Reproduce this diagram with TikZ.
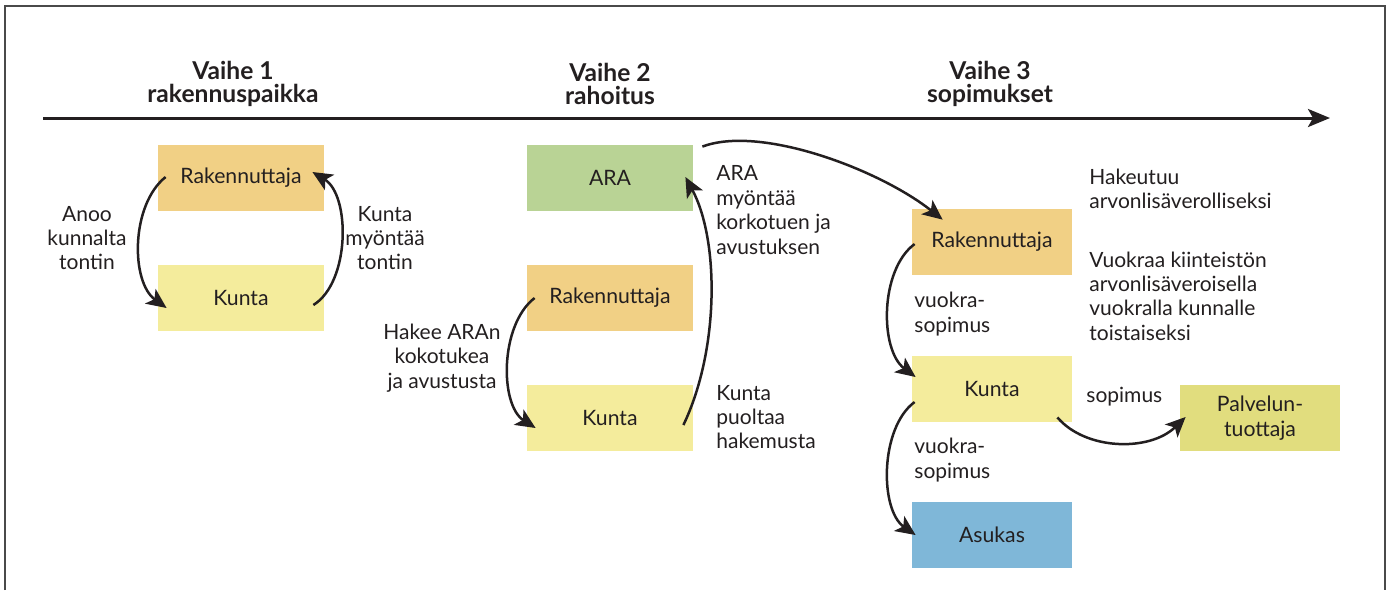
\documentclass[tikz,border=0pt]{standalone}
\usepackage{fontspec}
\setmainfont{Lato}
\usetikzlibrary{arrows.meta,calc}
\definecolor{txt}{HTML}{231F20}
\definecolor{frm}{HTML}{4A4A4A}
\definecolor{corange}{HTML}{F1D085}
\definecolor{cyellow}{HTML}{F4EC9C}
\definecolor{cgreen}{HTML}{B9D395}
\definecolor{cblue}{HTML}{7FB7D8}
\definecolor{colive}{HTML}{E1DD7E}
\begin{document}
\begin{tikzpicture}[x=0.5pt,y=-0.5pt,
  box/.style={minimum width=83pt,minimum height=33pt,inner sep=0pt,font=\fontsize{10.6}{12.2}\selectfont,text=txt,align=center},
  boxn/.style={box,minimum width=80pt},
  lbl/.style={inner sep=0pt,font=\fontsize{10.5}{12.2}\selectfont,text=txt},
  hdr/.style={inner sep=0pt,align=center,font=\bfseries\fontsize{12.3}{11.7}\selectfont,text=txt},
  arr/.style={draw=txt,line width=1.25pt,-{Stealth[length=10pt,width=9pt,inset=2.5pt]}},
]
\useasboundingbox (0,0) rectangle (1392,590);
\fill[white] (0,0) rectangle (1392,590);
% frame
\draw[frm,line width=1pt] (5,590) -- (5,6) -- (1385,6) -- (1385,590);
% timeline
\coordinate (tl0) at (43,118);
\coordinate (tl1) at (1330,118);
\draw[txt,line width=1.5pt,-{Stealth[length=11pt,width=9pt,inset=2.5pt]}] (tl0) -- (tl1);
% headers
\node[hdr] (h1) at (233,84) {Vaihe 1\\rakennuspaikka};
\node[hdr] (h2) at (610,84) {Vaihe 2\\rahoitus};
\node[hdr] (h3) at (990,84) {Vaihe 3\\sopimukset};
% phase 1
\node[box,fill=corange] (r1) at (241,178) {Rakennuttaja};
\node[box,fill=cyellow] (k1) at (241,298) {Kunta};
% phase 2
\node[box,fill=cgreen] (ara) at (610,178) {ARA};
\node[box,fill=corange] (r2) at (610,298) {Rakennuttaja};
\node[box,fill=cyellow] (k2) at (610,418) {Kunta};
% phase 3
\node[boxn,fill=corange] (r3) at (992,242) {Rakennuttaja};
\node[boxn,fill=cyellow] (k3) at (992,389) {Kunta};
\node[boxn,fill=cblue] (as) at (992,535) {Asukas};
\node[boxn,fill=colive] (pv) at (1260,418) {Palvelun-\\tuottaja};
% labels
\node[lbl,align=center] (l1) at (87,238) {Anoo\\kunnalta\\tontin};
\node[lbl,align=center] (l2) at (385,238) {Kunta\\myöntää\\tontin};
\node[lbl,align=center] (l3) at (442,358) {Hakee ARAn\\kokotukea\\ja avustusta};
\node[lbl,align=left,anchor=west] (l4) at (716,210) {ARA\\myöntää\\korkotuen ja\\avustuksen};
\node[lbl,align=left,anchor=west] (l5) at (716,417) {Kunta\\puoltaa\\hakemusta};
\node[lbl,align=left,anchor=west] (l6) at (1089,189) {Hakeutuu\\arvonlisäverolliseksi};
\node[lbl,align=left,anchor=west] (l7) at (1089,296) {Vuokraa kiinteistön\\arvonlisäveroisella\\vuokralla kunnalle\\toistaiseksi};
\node[lbl,align=left,anchor=west] (l8) at (914,314) {vuokra-\\sopimus};
\node[lbl,align=left,anchor=west] (l9) at (914,460) {vuokra-\\sopimus};
\node[lbl,align=left,anchor=west] (l10) at (1086,397) {sopimus};
% arrows phase 1
\draw[arr] ($(r1.west)+(8,-1)$) .. controls +(-35,28) and +(-36,-26) .. ($(k1.west)+(9,10)$);
\draw[arr] ($(k1.east)+(-11,7)$) .. controls +(37,-23) and +(38,23) .. ($(r1.east)+(-12,-6)$);
% arrows phase 2
\draw[arr] ($(r2.west)+(8,0)$) .. controls +(-35,27) and +(-36,-23) .. ($(k2.west)+(9,10)$);
\draw[arr] ($(k2.east)+(-10,7)$) .. controls +(36,-75) and +(34,63) .. ($(ara.east)+(-8,-1)$);
\draw[arr] ($(ara.north east)+(9,2)$) .. controls +(58,-22) and +(-63,-50) .. ($(r3.north west)+(31,11)$);
% arrows phase 3
\draw[arr] ($(r3.west)+(3,2)$) .. controls +(-35,26) and +(-36,-27) .. ($(k3.west)+(4,-12)$);
\draw[arr] ($(k3.west)+(3,13)$) .. controls +(-35,26) and +(-36,-25) .. ($(as.west)+(4,0)$);
\draw[arr] ($(k3.south east)+(-15,-5)$) .. controls +(28,33) and +(-36,35) .. ($(pv.west)+(6,-1)$);
\end{tikzpicture}
\end{document}
